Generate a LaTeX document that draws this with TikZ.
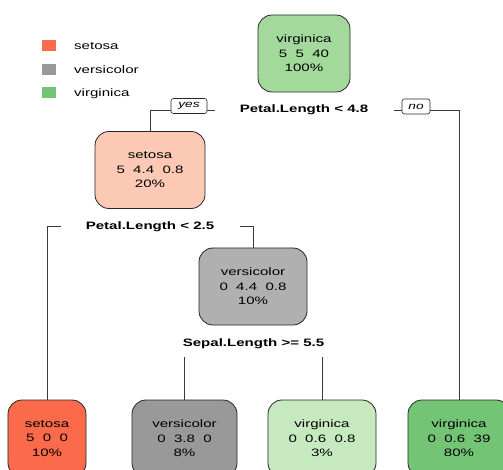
\documentclass[tikz,border=0pt]{standalone}
\usepackage{fontspec}
\setmainfont{Liberation Sans}[FakeStretch=1.4]
\definecolor{setosaC}{HTML}{FC6A4C}
\definecolor{setosaL}{HTML}{FCC9B4}
\definecolor{versiC}{HTML}{999999}
\definecolor{versiL}{HTML}{B0B0B0}
\definecolor{virgC}{HTML}{74C476}
\definecolor{virgM}{HTML}{A3DA9C}
\definecolor{virgL}{HTML}{C7E9C0}
\definecolor{edgeC}{HTML}{3A3A3A}
\begin{document}
\begin{tikzpicture}[x=1bp,y=-1bp,
  txt/.style={font=\fontsize{10.8}{14.5}\selectfont},
  treenode/.style={draw=black!85, line width=0.8bp, rounded corners=14bp,
    align=center, txt, inner sep=0pt, minimum height=77bp},
  splitlabel/.style={font=\fontsize{10.8}{14.5}\selectfont\bfseries, inner sep=0pt},
  answer/.style={draw=black!85, line width=0.6bp, rounded corners=2.5bp,
    font=\fontsize{9.8}{12}\selectfont\itshape, inner sep=0pt, minimum height=15bp},
  branch/.style={draw=edgeC, line width=0.8bp},
  swatch/.style={minimum width=14bp, minimum height=11bp, inner sep=0pt},
  legendtxt/.style={txt, anchor=west, inner sep=0pt}
]
\useasboundingbox (0,0) rectangle (503,470);
\clip (0,0) rectangle (503,470);

% legend
\node[swatch, fill=setosaC] (s1) at (49,45.5) {};
\node[swatch, fill=versiC]  (s2) at (49,69.5) {};
\node[swatch, fill=virgC]   (s3) at (49,93) {};
\node[legendtxt] (l1) at (74,46) {setosa};
\node[legendtxt] (l2) at (74,70) {versicolor};
\node[legendtxt] (l3) at (74,93.5) {virginica};

% tree nodes
\node[treenode, fill=virgM, minimum width=92bp] (root) at (304,53.5) {virginica\\5\ \ 5\ \ 40\\100\%};
\node[treenode, fill=setosaL, minimum width=110bp] (n2) at (150,170) {setosa\\5\ \ 4.4\ \ 0.8\\20\%};
\node[treenode, fill=versiL, minimum width=108bp] (n5) at (253,286.5) {versicolor\\0\ \ 4.4\ \ 0.8\\10\%};
\node[treenode, fill=setosaC, minimum width=78bp] (n4) at (47,438.5) {setosa\\5\ \ 0\ \ 0\\10\%};
\node[treenode, fill=versiC, minimum width=105bp] (n10) at (184.5,438.5) {versicolor\\0\ \ 3.8\ \ 0\\8\%};
\node[treenode, fill=virgL, minimum width=108bp] (n11) at (322,438.5) {virginica\\0\ \ 0.6\ \ 0.8\\3\%};
\node[treenode, fill=virgC, minimum width=102bp] (n3) at (459,438.5) {virginica\\0\ \ 0.6\ \ 39\\80\%};

% split labels
\node[splitlabel] (sp1) at (304,110) {Petal.Length < 4.8};
\node[splitlabel] (sp2) at (150,227) {Petal.Length < 2.5};
\node[splitlabel] (sp3) at (253.5,344) {Sepal.Length >= 5.5};

% yes / no tags
\node[answer, minimum width=36bp] (yes) at (189,106) {yes};
\node[answer, minimum width=28bp] (no) at (416,106.5) {no};

% junction points
\coordinate (j1l) at (150,110);
\coordinate (j1a) at (215,110);
\coordinate (j1b) at (394,110);
\coordinate (j1r) at (459,110);
\coordinate (j2l) at (47,226);
\coordinate (j2a) at (61,226);
\coordinate (j2b) at (240,226);
\coordinate (j2r) at (253,226);
\coordinate (j3l) at (184.5,357);
\coordinate (j3r) at (322,357);

% branches
\draw[branch] (yes.west |- j1l) -- (j1l) -- (n2.north);
\draw[branch] (yes.east |- j1a) -- (j1a);
\draw[branch] (j1b) -- (no.west |- j1b);
\draw[branch] (no.east |- j1r) -- (j1r) -- (n3.north);
\draw[branch] (j2a) -- (j2l) -- (n4.north);
\draw[branch] (j2b) -- (j2r) -- (n5.north);
\draw[branch] (j3l) -- (n10.north);
\draw[branch] (j3r) -- (n11.north);
\end{tikzpicture}
\end{document}
